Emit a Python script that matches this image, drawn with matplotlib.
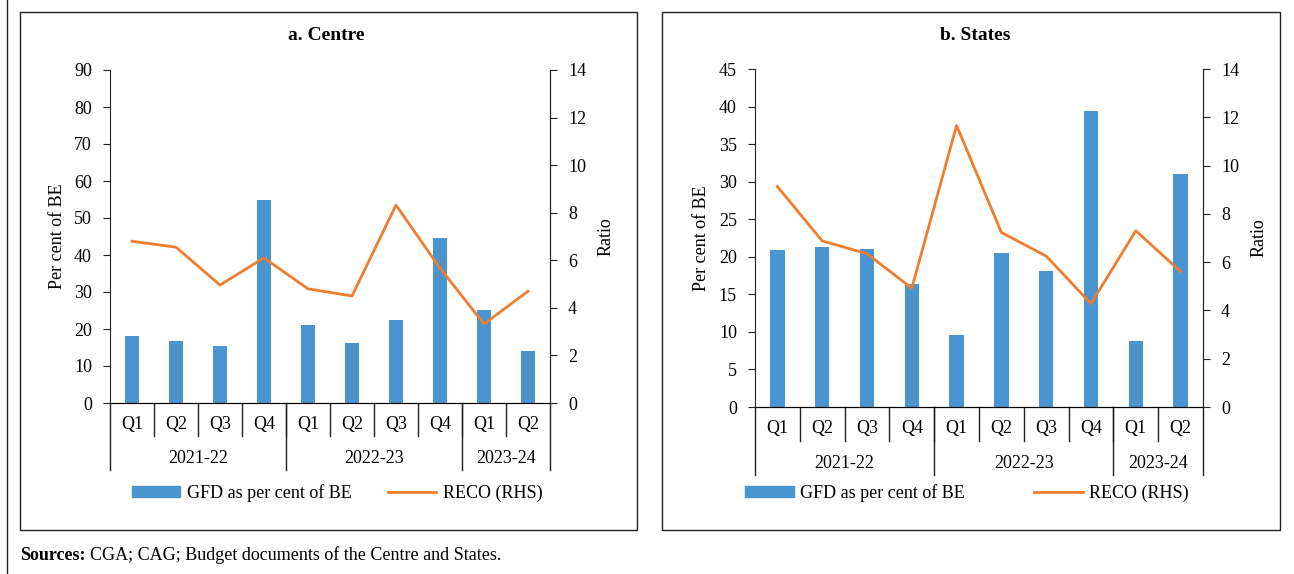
import matplotlib
matplotlib.use('Agg')
import matplotlib.pyplot as plt
from matplotlib.patches import Rectangle, Patch
from matplotlib.lines import Line2D
import matplotlib.transforms as mtransforms

plt.rcParams['font.family'] = ['Liberation Serif', 'DejaVu Serif']
plt.rcParams['font.size'] = 12

# data
quarters = ['Q1', 'Q2', 'Q3', 'Q4', 'Q1', 'Q2', 'Q3', 'Q4', 'Q1', 'Q2']
years = ['2021-22', '2022-23', '2023-24']
year_sizes = [4, 4, 2]

centre_gfd = [18.1, 16.7, 15.3, 54.9, 21.2, 16.1, 22.4, 44.6, 25.2, 14.0]
centre_reco = [6.80, 6.55, 4.96, 6.10, 4.80, 4.50, 8.32, 5.67, 3.32, 4.70]

states_gfd = [20.9, 21.3, 21.05, 16.4, 9.6, 20.5, 18.1, 39.4, 8.8, 31.0]
states_reco = [9.13, 6.88, 6.35, 4.92, 11.66, 7.23, 6.25, 4.28, 7.30, 5.61]

BLUE = '#4a94d0'
ORANGE = '#ee7d2f'
W, H = 1294, 574
FS = 13

fig = plt.figure(figsize=(W / 100, H / 100), dpi=100)

# panel frames
for x0, x1 in [(20, 637), (662, 1280)]:
    fig.patches.append(Rectangle((x0 / W, 1 - 530 / H), (x1 - x0) / W, (530 - 12) / H,
                                 transform=fig.transFigure, fill=False,
                                 edgecolor='#222222', lw=1.0))
fig.add_artist(Line2D([7 / W, 7 / W], [0, 1], transform=fig.transFigure,
                      color='#222222', lw=1.0))


def panel(rect, title, gfd, reco, ymax, ystep, leg_x, leg_y, colsp):
    ax = fig.add_axes(rect)
    x = list(range(len(quarters)))
    ax.bar(x, gfd, width=0.32, color=BLUE, zorder=2)
    ax.set_xlim(-0.5, len(quarters) - 0.5)
    ax.set_ylim(0, ymax)
    ax.set_yticks(range(0, ymax + 1, ystep))
    ax.set_xticks([])
    ax.spines['top'].set_visible(False)
    for s in ['left', 'right', 'bottom']:
        ax.spines[s].set_color('#222222')
    ax.tick_params(axis='y', direction='out', length=5, color='#222222', labelsize=FS, pad=8)
    ax.set_ylabel('Per cent of BE', fontsize=FS, labelpad=6)

    ax2 = ax.twinx()
    ax2.plot(x, reco, color=ORANGE, lw=2.0, zorder=3)
    ax2.set_ylim(0, 14)
    ax2.set_yticks(range(0, 15, 2))
    ax2.spines['top'].set_visible(False)
    ax2.spines['left'].set_visible(False)
    ax2.spines['right'].set_color('#222222')
    ax2.tick_params(axis='y', direction='out', length=5, color='#222222', labelsize=FS, pad=8)
    ax2.set_ylabel('Ratio', fontsize=FS, labelpad=8)

    # multi-level category axis
    tr = mtransforms.blended_transform_factory(ax.transData, ax.transAxes)
    for i, q in enumerate(quarters):
        ax.text(i, -0.065, q, transform=tr, ha='center', va='center', fontsize=FS)
    for i in range(1, len(quarters)):
        ax.plot([i - 0.5, i - 0.5], [0, -0.1], transform=tr, color='#222222',
                lw=1.0, clip_on=False)
    edges = [-0.5]
    for n in year_sizes:
        edges.append(edges[-1] + n)
    for e in edges:
        ax.plot([e, e], [0, -0.2], transform=tr, color='#222222', lw=1.0, clip_on=False)
    for k, yr in enumerate(years):
        ax.text((edges[k] + edges[k + 1]) / 2, -0.168, yr, transform=tr,
                ha='center', va='center', fontsize=FS)

    fig.text(rect[0] + rect[2] / 2 - 0.003, 1 - 35 / H, title, ha='center', va='center',
             fontsize=14, fontweight='bold')

    handles = [Patch(color=BLUE), Line2D([], [], color=ORANGE, lw=2.0)]
    ax.legend(handles, ['GFD as per cent of BE', 'RECO (RHS)'], loc='center',
              bbox_to_anchor=(leg_x, leg_y), ncol=2, frameon=False, fontsize=FS,
              handlelength=2.7, handleheight=0.6, columnspacing=colsp,
              handletextpad=0.35)
    return ax


panel([110 / W, 1 - 403 / H, 440 / W, 333 / H], 'a. Centre',
      centre_gfd, centre_reco, 90, 10, 0.516, -0.27, 2.0)
panel([755 / W, 1 - 407 / H, 448 / W, 338 / H], 'b. States',
      states_gfd, states_reco, 45, 5, 0.473, -0.255, 3.8)

src = fig.text(20 / W, 1 - 555 / H, 'Sources:', ha='left', va='center', fontsize=FS,
               fontweight='bold')
fig.canvas.draw()
bb = src.get_window_extent()
fig.text((bb.x1 + 5) / W, 1 - 555 / H, 'CGA; CAG; Budget documents of the Centre and States.',
         ha='left', va='center', fontsize=FS)

fig.savefig('out.png', dpi=100)
